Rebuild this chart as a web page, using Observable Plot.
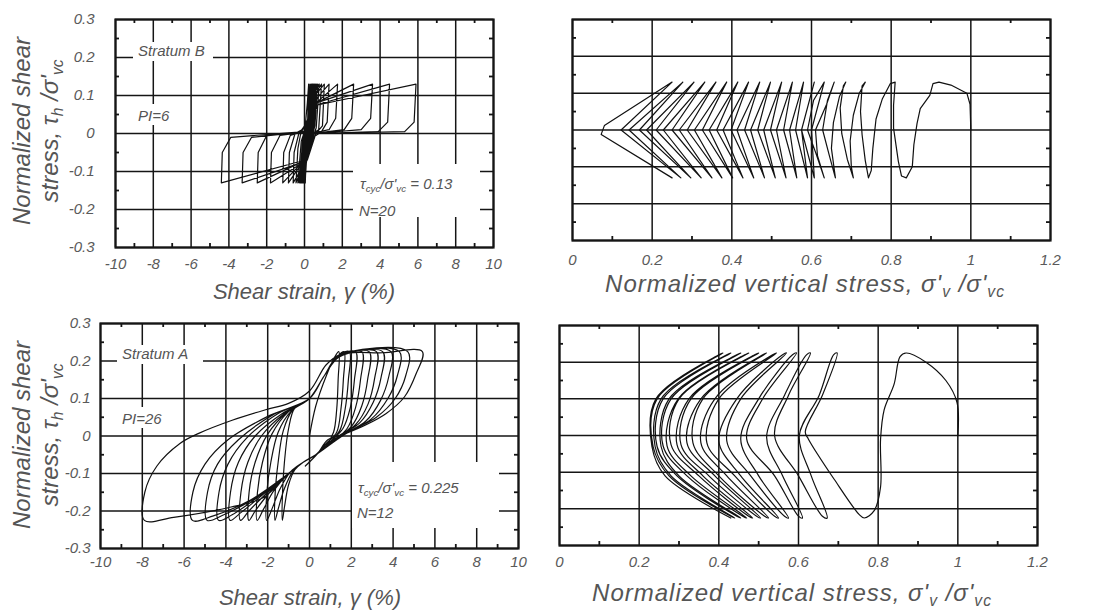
<!DOCTYPE html>
<html>
<head>
<meta charset="utf-8">
<script src="https://cdn.jsdelivr.net/npm/d3@7"></script>
<script src="https://cdn.jsdelivr.net/npm/@observablehq/plot@0.6"></script>
<style>
  body { margin: 0; background: #fff; }
  #fig { position: relative; width: 1096px; height: 611px; overflow: hidden; background: #fff;
         font-family: "Liberation Sans", Arial, sans-serif; font-style: italic; color: #555; }
  .panel { position: absolute; }
  .lbl { position: absolute; white-space: nowrap; transform: translate(-50%, -50%); line-height: 1; }
  .ylbl { position: absolute; white-space: nowrap; text-align: center; font-size: 24px; line-height: 28px;
          transform: translate(-50%, -50%) rotate(-90deg); }
  .note { position: absolute; white-space: nowrap; font-size: 15px; line-height: 1; }
  .box { position: absolute; background: #fff; }
  sub { font-size: 0.65em; vertical-align: -0.3em; line-height: 0; }
</style>
</head>
<body>
<div id="fig"></div>
<script>
// Axis ticks
const strainTicks = [-10, -8, -6, -4, -2, 0, 2, 4, 6, 8, 10];
const strainMinor = [-9, -7, -5, -3, -1, 1, 3, 5, 7, 9];
const stressTicks = [-0.3, -0.2, -0.1, 0, 0.1, 0.2, 0.3];
const stressMinor = [-0.25, -0.15, -0.05, 0.05, 0.15, 0.25];
const verticalTicks = [0, 0.2, 0.4, 0.6, 0.8, 1, 1.2];
const verticalMinor = [0.1, 0.3, 0.5, 0.7, 0.9, 1.1];

// Cyclic stress ratios and cycle counts of the two tests
const cyclicRatioB = 0.13, cyclesB = 20;
const cyclicRatioA = 0.225, cyclesA = 12;

// Stratum B: shear strain (%) vs normalized shear stress
const strainPathB = [
  [0,0],[0.15,0.08],[0.22,0.13],[0.15,0.0],[0.06,-0.1],[0.04,-0.13],
  [0.12,-0.02],[0.25,0.1],[0.29,0.13],[0.22,0.02],[0.07,-0.1],[0.02,-0.13],
  [0.12,0.0],[0.3,0.11],[0.35,0.13],
  [0.3,0.05],[0.15,-0.05],[0.02,-0.11],[0,-0.13],
  [0.1,-0.03],[0.32,0.1],[0.4,0.13],
  [0.33,0.04],[0.15,-0.06],[0,-0.11],[-0.03,-0.13],
  [0.08,-0.03],[0.33,0.1],[0.43,0.13],
  [0.35,0.03],[0.14,-0.06],[-0.03,-0.11],[-0.06,-0.13],
  [0.06,-0.03],[0.35,0.1],[0.47,0.13],
  [0.38,0.03],[0.14,-0.06],[-0.05,-0.11],[-0.09,-0.13],
  [0.04,-0.03],[0.37,0.1],[0.5,0.13],
  [0.4,0.02],[0.14,-0.06],[-0.08,-0.11],[-0.12,-0.13],
  [0.02,-0.02],[0.38,0.1],[0.54,0.13],
  [0.43,0.02],[0.14,-0.06],[-0.1,-0.11],[-0.15,-0.13],
  [0,-0.02],[0.4,0.1],[0.58,0.13],
  [0.46,0.02],[0.13,-0.06],[-0.12,-0.11],[-0.19,-0.13],
  [-0.03,-0.02],[0.42,0.1],[0.63,0.13],
  [0.5,0.02],[0.12,-0.06],[-0.15,-0.11],[-0.23,-0.13],
  [-0.06,-0.02],[0.44,0.1],[0.7,0.13],
  [0.55,0.02],[0.12,-0.06],[-0.18,-0.11],[-0.28,-0.13],
  [-0.1,-0.02],[0.45,0.1],[0.78,0.13],
  [0.62,0.015],[0.11,-0.06],[-0.2,-0.1],[-0.35,-0.13],
  [-0.17,-0.02],[0.3,0.05],[0.5,0.1],[0.9,0.13],
  [0.75,0.01],[0.4,0],[0.1,-0.06],[-0.22,-0.1],[-0.45,-0.13],
  [-0.35,-0.04],[-0.2,0],[0.3,0.05],[0.55,0.1],[1.05,0.13],
  [0.95,0.02],[0.6,0],[0.1,-0.06],[-0.25,-0.1],[-0.6,-0.13],
  [-0.55,-0.05],[-0.3,0],[0.3,0.04],[0.6,0.09],[1.3,0.13],
  [1.2,0.03],[0.9,0.005],[0.2,-0.02],[0.05,-0.07],[-0.3,-0.09],[-0.85,-0.13],
  [-0.8,-0.05],[-0.5,0],[0.25,0.02],[0.6,0.08],[1.75,0.13],
  [1.65,0.04],[1.3,0.01],[0.3,0],[0.05,-0.07],[-0.3,-0.085],[-1.15,-0.13],
  [-1.1,-0.05],[-0.75,-0.005],[0.2,0.01],[0.6,0.08],[2.6,0.13],
  [2.5,0.04],[2.1,0.01],[0.4,0],[0.1,-0.07],[-0.35,-0.085],[-1.8,-0.13],
  [-1.75,-0.05],[-1.3,-0.005],[0.2,0.005],[0.6,0.08],[3.6,0.13],
  [3.5,0.04],[3.0,0.01],[0.5,0],[0.1,-0.07],[-0.35,-0.08],[-2.5,-0.13],
  [-2.45,-0.05],[-2.0,-0.005],[0.1,0.005],[0.6,0.075],[4.5,0.13],
  [4.4,0.03],[3.9,0.005],[0.5,0],[0.15,-0.07],[-0.35,-0.08],[-3.3,-0.13],
  [-3.25,-0.05],[-2.8,-0.01],[0.1,0.005],[0.7,0.075],[5.9,0.13],
  [5.8,0.03],[5.3,0.005],[0.6,0],[0.15,-0.07],[-0.35,-0.075],[-4.4,-0.13],
  [-4.35,-0.05],[-3.9,-0.01],[0,0.005],[0.2,0.04]
];

// Stratum B: normalized vertical stress vs normalized shear stress
const stressPathB = [
  [1.0,0],[0.998,0.07],[0.99,0.1],[0.95,0.122],[0.92,0.13],
  [0.905,0.126],[0.897,0.094],[0.873,0.058],[0.865,0.018],[0.857,-0.04],[0.853,-0.1],[0.838,-0.13],
  [0.826,-0.125],[0.818,-0.085],[0.806,0.005],[0.806,0.067],[0.81,0.13],
  [0.798,0.126],[0.778,0.085],[0.762,0.03],[0.754,-0.05],[0.75,-0.11],[0.743,-0.13],
  [0.735,-0.083],[0.727,-0.013],[0.723,0.05],[0.727,0.12],[0.735,0.13],
  [0.72,0.1],[0.705,0.04],[0.697,-0.03],[0.7,-0.1],[0.705,-0.13],
  [0.69,-0.08],[0.676,-0.01],[0.672,0.06],[0.68,0.12],[0.686,0.13],
  [0.67,0.09],[0.655,0.02],[0.65,-0.05],[0.66,-0.13],
  [0.645,-0.07],[0.628,0],[0.64,0.08],[0.657,0.13],
  [0.638,0.07],[0.61,0],[0.615,-0.07],[0.632,-0.13],
  [0.61,-0.06],[0.59,0],[0.605,0.08],[0.632,0.13],
  [0.6,0],[0.607,-0.13],[0.575,0],
  [0.607,0.13],[0.575,0],[0.59,-0.13],[0.56,0],
  [0.58,0.13],[0.545,0],[0.563,-0.13],[0.53,0],
  [0.552,0.13],[0.512,0],[0.536,-0.13],[0.497,0],
  [0.525,0.13],[0.48,0],[0.509,-0.13],[0.465,0],
  [0.497,0.13],[0.447,0],[0.482,-0.13],[0.432,0],
  [0.47,0.13],[0.413,0],[0.455,-0.13],[0.398,0],
  [0.442,0.13],[0.378,0],[0.428,-0.13],[0.362,0],
  [0.415,0.13],[0.343,0],[0.402,-0.13],[0.326,0],
  [0.387,0.13],[0.306,0],[0.375,-0.13],[0.288,0],
  [0.36,0.13],[0.268,0],[0.35,-0.13],[0.25,0],
  [0.332,0.13],[0.228,0],[0.323,-0.13],[0.21,0],
  [0.305,0.13],[0.186,0],[0.297,-0.13],[0.168,0],
  [0.277,0.13],[0.142,0],[0.272,-0.13],[0.122,0],
  [0.25,0.13],[0.08,0.012],[0.072,-0.012],[0.25,-0.13]
];

// Stratum A: shear strain (%) vs normalized shear stress
const strainPathA = [
  [0,0],[0.3,0.08],[0.8,0.16],[1.2,0.21],[1.4,0.225],
  [1.37,0.15],[1.3,0.07],[1.15,0.01],[0.8,-0.025],[0.3,-0.05],[-0.3,-0.07],[-0.7,-0.09],[-1.0,-0.13],[-1.2,-0.19],[-1.3,-0.225],
  [-1.29,-0.15],[-1.2,-0.07],[-1.0,0.02],[-0.7,0.075],[0,0.1],[0.7,0.16],[1.3,0.21],[1.65,0.225],
  [1.62,0.15],[1.5,0.07],[1.3,0.01],[0.8,-0.02],[0.3,-0.05],[-0.3,-0.07],[-0.8,-0.095],[-1.2,-0.14],[-1.5,-0.195],[-1.65,-0.225],
  [-1.64,-0.15],[-1.5,-0.07],[-1.25,0.015],[-0.8,0.07],[0,0.1],[0.7,0.16],[1.3,0.21],[1.9,0.225],
  [1.86,0.15],[1.7,0.07],[1.45,0.015],[0.9,-0.02],[0.3,-0.05],[-0.3,-0.07],[-0.9,-0.095],[-1.4,-0.14],[-1.8,-0.195],[-2.05,-0.225],
  [-2.04,-0.15],[-1.85,-0.07],[-1.5,0.01],[-0.9,0.065],[0,0.1],[0.7,0.16],[1.3,0.21],[2.2,0.225],
  [2.15,0.15],[1.95,0.075],[1.6,0.02],[1.0,-0.015],[0.3,-0.05],[-0.3,-0.07],[-1.0,-0.1],[-1.7,-0.145],[-2.2,-0.195],[-2.5,-0.225],
  [-2.49,-0.15],[-2.25,-0.07],[-1.8,0.005],[-1.0,0.065],[0,0.1],[0.7,0.16],[1.4,0.21],[2.5,0.225],
  [2.44,0.15],[2.2,0.075],[1.8,0.02],[1.1,-0.015],[0.3,-0.05],[-0.3,-0.07],[-1.0,-0.1],[-1.9,-0.15],[-2.6,-0.2],[-2.9,-0.225],
  [-2.89,-0.15],[-2.6,-0.07],[-2.0,0.005],[-1.1,0.062],[0,0.1],[0.7,0.16],[1.4,0.21],[2.85,0.225],
  [2.78,0.15],[2.5,0.08],[2.0,0.025],[1.2,-0.01],[0.3,-0.05],[-0.3,-0.07],[-1.0,-0.1],[-2.0,-0.15],[-2.9,-0.2],[-3.3,-0.225],
  [-3.28,-0.15],[-2.95,-0.07],[-2.3,0.0],[-1.2,0.06],[0,0.1],[0.7,0.16],[1.4,0.21],[3.2,0.225],
  [3.12,0.155],[2.8,0.085],[2.2,0.03],[1.3,-0.005],[0.3,-0.05],[-0.3,-0.07],[-1.0,-0.1],[-2.2,-0.155],[-3.3,-0.205],[-3.8,-0.225],
  [-3.78,-0.15],[-3.4,-0.07],[-2.6,0.0],[-1.3,0.06],[0,0.1],[0.7,0.16],[1.4,0.21],[3.5,0.225],
  [3.42,0.155],[3.05,0.09],[2.4,0.035],[1.4,0.0],[0.3,-0.05],[-0.3,-0.07],[-1.0,-0.1],[-2.4,-0.16],[-3.7,-0.21],[-4.35,-0.225],
  [-4.33,-0.15],[-3.9,-0.075],[-3.0,-0.005],[-1.5,0.06],[0,0.1],[0.7,0.16],[1.5,0.215],[3.9,0.225],
  [3.8,0.16],[3.4,0.095],[2.7,0.04],[1.5,0.0],[0.3,-0.05],[-0.3,-0.07],[-1.0,-0.1],[-2.6,-0.165],[-4.1,-0.21],[-4.9,-0.225],
  [-4.88,-0.15],[-4.4,-0.075],[-3.4,-0.01],[-1.7,0.058],[0,0.1],[0.7,0.16],[1.5,0.215],[4.3,0.225],
  [4.2,0.16],[3.75,0.1],[2.95,0.045],[1.6,0.003],[0.3,-0.05],[-0.3,-0.07],[-1.0,-0.1],[-2.8,-0.17],[-4.6,-0.213],[-5.6,-0.225],
  [-5.58,-0.15],[-5.0,-0.075],[-3.9,-0.01],[-1.9,0.055],[0,0.1],[0.7,0.16],[1.5,0.215],[4.7,0.225],
  [4.6,0.16],[4.1,0.1],[3.2,0.05],[1.7,0.005],[0.3,-0.05],[-0.3,-0.07],[-1.0,-0.1],[-2.2,-0.164],[-3.8,-0.19],[-6.5,-0.217],[-7.9,-0.225],
  [-7.88,-0.15],[-7.3,-0.08],[-6.2,-0.02],[-5.3,0.007],[-3.7,0.042],[-2.1,0.07],[-1.0,0.087],[0,0.12],[0.8,0.19],[1.5,0.218],[3.5,0.222],[5.4,0.225],
  [5.1,0.166],[4.54,0.104],[3.67,0.06],[2.71,0.03],[1.75,0.007],[0.88,-0.01],[0.4,-0.046],[-0.2,-0.08]
];

// Stratum A: normalized vertical stress vs normalized shear stress
const stressPathA = [
  [1.0,0],[0.998,0.09],[0.97,0.15],[0.92,0.2],[0.87,0.225],[0.855,0.215],[0.84,0.14],[0.815,0.07],[0.806,-0.01],
  [0.806,-0.14],[0.79,-0.205],[0.765,-0.225],[0.752,-0.215],
  [0.69,-0.12],[0.625,-0.01],[0.617,0.01],[0.66,0.11],[0.697,0.225],
  [0.688,0.22],[0.652,0.11],[0.602,0.0],[0.632,-0.11],[0.672,-0.225],
  [0.66,-0.22],[0.6,-0.11],[0.54,0.0],[0.575,0.11],[0.63,0.225],
  [0.62,0.22],[0.565,0.11],[0.52,-0.005],[0.56,-0.11],[0.61,-0.225],
  [0.6,-0.22],[0.54,-0.11],[0.47,-0.01],[0.51,0.1],[0.595,0.225],
  [0.585,0.22],[0.5,0.1],[0.455,-0.01],[0.5,-0.11],[0.575,-0.225],
  [0.565,-0.22],[0.48,-0.11],[0.42,-0.015],[0.455,0.1],[0.57,0.225],
  [0.56,0.22],[0.445,0.1],[0.4,-0.015],[0.455,-0.11],[0.55,-0.225],
  [0.54,-0.22],[0.44,-0.11],[0.37,-0.02],[0.4,0.1],[0.545,0.225],
  [0.535,0.22],[0.39,0.1],[0.355,-0.02],[0.42,-0.11],[0.525,-0.225],
  [0.515,-0.22],[0.4,-0.11],[0.335,-0.02],[0.36,0.1],[0.52,0.225],
  [0.51,0.22],[0.355,0.1],[0.32,-0.02],[0.39,-0.11],[0.505,-0.225],
  [0.495,-0.22],[0.375,-0.11],[0.305,-0.025],[0.33,0.1],[0.5,0.225],
  [0.49,0.22],[0.325,0.1],[0.295,-0.025],[0.36,-0.11],[0.485,-0.225],
  [0.475,-0.22],[0.35,-0.11],[0.28,-0.025],[0.3,0.1],[0.475,0.225],
  [0.465,0.22],[0.298,0.1],[0.27,-0.028],[0.33,-0.11],[0.47,-0.225],
  [0.46,-0.22],[0.32,-0.11],[0.26,-0.028],[0.28,0.1],[0.455,0.225],
  [0.445,0.22],[0.275,0.1],[0.255,-0.03],[0.3,-0.11],[0.455,-0.225],
  [0.445,-0.22],[0.295,-0.11],[0.245,-0.03],[0.26,0.1],[0.43,0.225],
  [0.42,0.22],[0.255,0.1],[0.24,-0.03],[0.28,-0.11],[0.44,-0.225],
  [0.43,-0.22],[0.275,-0.11],[0.235,-0.03],[0.245,0.1],[0.41,0.225],
  [0.4,0.22],[0.242,0.1],[0.232,-0.03],[0.265,-0.11],[0.43,-0.225]
];

const fig = document.getElementById("fig");
const ink = "#151515";
const tickText = d => (d < 0 ? "-" + Math.abs(d) : String(d));

function panel(o) {
  const fw = o.width - o.ml - o.mr, fh = o.height - o.mt - o.mb;
  const marks = [
    Plot.gridX({ticks: o.xTicks, stroke: ink, strokeOpacity: 1, strokeWidth: 1.5}),
    Plot.gridY({ticks: stressTicks, stroke: ink, strokeOpacity: 1, strokeWidth: 1.5}),
    Plot.tickX(o.xMinor, {x: d => d, insetBottom: fh - 4, stroke: ink, strokeWidth: 1.8}),
    Plot.tickX(o.xMinor, {x: d => d, insetTop: fh - 4, stroke: ink, strokeWidth: 1.8}),
    Plot.tickY(stressMinor, {y: d => d, insetRight: fw - 4, stroke: ink, strokeWidth: 1.8}),
    Plot.tickY(stressMinor, {y: d => d, insetLeft: fw - 4, stroke: ink, strokeWidth: 1.8}),
    Plot.line(o.path, {x: d => d[0], y: d => d[1], stroke: "#111", strokeWidth: 1.2,
                       strokeLinejoin: "round", curve: o.curve || "linear"}),
    Plot.frame({stroke: ink, strokeWidth: 2.2}),
    Plot.axisX({ticks: o.xTicks, tickSize: 0, tickPadding: o.xPad, tickFormat: tickText, label: null})
  ];
  if (o.yPad != null) {
    marks.push(Plot.axisY({ticks: stressTicks, tickSize: 0, tickPadding: o.yPad, tickFormat: tickText, label: null}));
  }
  const svg = Plot.plot({
    width: o.width, height: o.height,
    marginLeft: o.ml, marginRight: o.mr, marginTop: o.mt, marginBottom: o.mb,
    x: {domain: o.xDomain},
    y: {domain: [-0.3, 0.3], axis: o.yPad != null ? undefined : null},
    style: {fontFamily: "'Liberation Sans', Arial, sans-serif", fontStyle: "italic",
            fontSize: "15px", color: "#5a5a5a", background: "transparent", overflow: "visible"},
    marks
  });
  svg.classList.add("panel");
  svg.style.left = o.left + "px";
  svg.style.top = o.top + "px";
  fig.appendChild(svg);
}

panel({left: 0, top: 0, width: 540, height: 305, ml: 115, mr: 47, mt: 19, mb: 58,
       xDomain: [-10, 10], xTicks: strainTicks, xMinor: strainMinor, xPad: 11, yPad: 21,
       path: strainPathB});
panel({left: 540, top: 0, width: 556, height: 305, ml: 32, mr: 46, mt: 19, mb: 65,
       xDomain: [0, 1.2], xTicks: verticalTicks, xMinor: verticalMinor, xPad: 14,
       path: stressPathB});
panel({left: 0, top: 305, width: 540, height: 306, ml: 100, mr: 22, mt: 18, mb: 63,
       xDomain: [-10, 10], xTicks: strainTicks, xMinor: strainMinor, xPad: 8, yPad: 10,
       path: strainPathA, curve: "catmull-rom"});
panel({left: 540, top: 305, width: 556, height: 306, ml: 19, mr: 59, mt: 20, mb: 66,
       xDomain: [0, 1.2], xTicks: verticalTicks, xMinor: verticalMinor, xPad: 11,
       path: stressPathA, curve: "catmull-rom"});

// Titles and annotations
function html(cls, style, content) {
  const d = document.createElement("div");
  d.className = cls;
  d.setAttribute("style", style);
  d.innerHTML = content;
  fig.appendChild(d);
}
const shearLabel = "Normalized shear<br>stress, τ<sub>h</sub> /σ'<sub>vc</sub>";
const strainLabel = "Shear strain, γ (%)";
const verticalLabel = "Normalized vertical stress, σ'<sub>v</sub> /σ'<sub>vc</sub>";

html("ylbl", "left:36px;top:131px", shearLabel);
html("ylbl", "left:36px;top:435px", shearLabel);
html("lbl", "left:304px;top:292px;font-size:22px", strainLabel);
html("lbl", "left:310px;top:598px;font-size:22px", strainLabel);
html("lbl", "left:805px;top:284px;font-size:24px;letter-spacing:1px", verticalLabel);
html("lbl", "left:792px;top:593px;font-size:24px;letter-spacing:1px", verticalLabel);

// Stratum B notes
html("box", "left:133px;top:42px;width:80px;height:19px", "");
html("note", "left:138px;top:43px", "Stratum B");
html("box", "left:134px;top:104px;width:42px;height:21px", "");
html("note", "left:138px;top:108px", "PI=6");
html("box", "left:353px;top:164px;width:127px;height:53px", "");
html("note", "left:360px;top:176px", `τ<sub>cyc</sub>/σ'<sub>vc</sub> = ${cyclicRatioB}`);
html("note", "left:359px;top:203px", `N=${cyclesB}`);

// Stratum A notes
html("box", "left:117px;top:345px;width:86px;height:19px", "");
html("note", "left:122px;top:346px", "Stratum A");
html("box", "left:118px;top:407px;width:52px;height:21px", "");
html("note", "left:122px;top:411px", "PI=26");
html("box", "left:352px;top:462px;width:147px;height:66px", "");
html("note", "left:358px;top:480px", `τ<sub>cyc</sub>/σ'<sub>vc</sub> = ${cyclicRatioA}`);
html("note", "left:357px;top:505px", `N=${cyclesA}`);
</script>
</body>
</html>
